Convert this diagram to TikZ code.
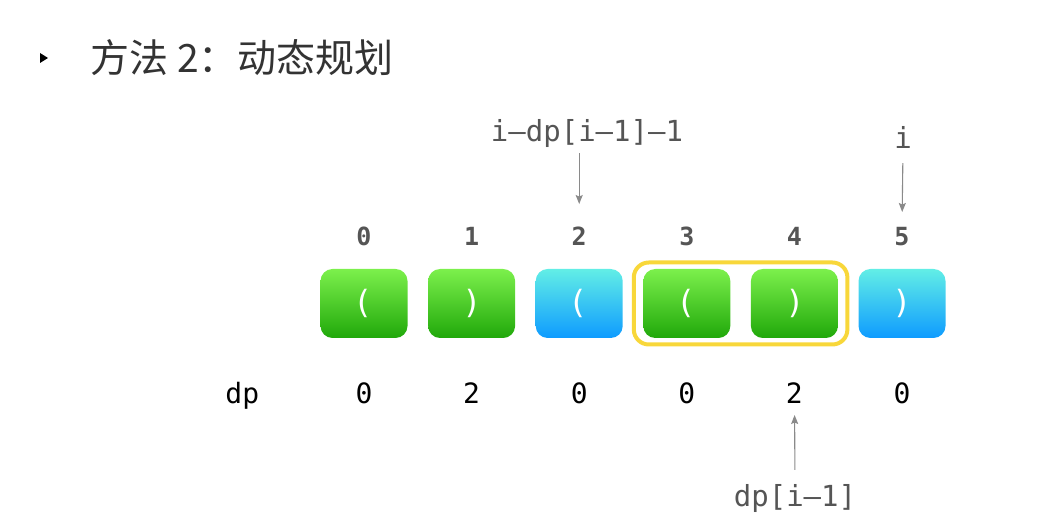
\documentclass[tikz,border=0pt]{standalone}
\usepackage{fontspec}
\setmainfont{Liberation Sans}
\setmonofont{DejaVu Sans Mono}
\newfontfamily\cjk{Noto Sans CJK SC}
\newfontfamily\parenfont{DejaVu Sans}
\usetikzlibrary{positioning, arrows.meta, fit}
\definecolor{gtop}{HTML}{7CF04C}
\definecolor{gbot}{HTML}{20A80A}
\definecolor{btop}{HTML}{62EEE6}
\definecolor{bbot}{HTML}{0E9BFF}
\definecolor{frame}{HTML}{F8D73A}
\definecolor{ink}{HTML}{555555}
\definecolor{arrowgray}{HTML}{8A8A8A}
\tikzset{
        x=1pt, y=1pt,
        node distance=20.6pt, % gap between two boxes
        cell/.style={minimum width=87pt, minimum height=69pt, rounded corners=12pt,
          outer sep=0pt, inner sep=0pt, text=white,
          font=\parenfont\fontsize{32}{32}\selectfont},
        gcell/.style={cell, top color=gtop, bottom color=gbot}, % green box
        bcell/.style={cell, top color=btop, bottom color=bbot}, % blue box
        idx/.style={inner sep=0pt, text=ink, font=\ttfamily\bfseries\fontsize{25}{25}\selectfont},
        dpval/.style={inner sep=0pt, font=\ttfamily\fontsize{28}{28}\selectfont},
        note/.style={inner sep=0pt, text=ink, font=\ttfamily\fontsize{29}{29}\selectfont},
        ptr/.style={draw=arrowgray, line width=1.1pt,
          -{Stealth[length=9pt, width=7pt, inset=1.5pt]}},
        hl/.style={draw=frame, line width=4pt, rounded corners=15pt,
          inner xsep=9.5pt, inner ysep=6.5pt},
    }
\begin{document}
\begin{tikzpicture}
    \useasboundingbox (0,0) rectangle (1052,529);
    % title
    \fill (40,476) -- (48,471) -- (40,466) -- cycle;
    \node[anchor=west, inner sep=0pt, text=black!80] (title) at (90,471)
      {\cjk\fontsize{39}{39}\selectfont 方法\hspace{9pt}2：动态规划};
    % boxes
    \node[gcell] (b0) at (364,225.5) {(};
    \node[gcell, right=of b0] (b1) {)};
    \node[bcell, right=of b1] (b2) {(};
    \node[gcell, right=of b2] (b3) {(};
    \node[gcell, right=of b3] (b4) {)};
    \node[bcell, right=of b4] (b5) {)};
    \node[hl, fit=(b3)(b4)] (pair) {};
    % indices
    \foreach \k in {0,...,5}
      \node[idx, above=23pt of b\k] (i\k) {\k};
    % dp row
    \node[dpval, below=45pt of b0] (dp0) {0};
    \node[dpval, below=45pt of b1] (dp1) {2};
    \node[dpval, below=45pt of b2] (dp2) {0};
    \node[dpval, below=45pt of b3] (dp3) {0};
    \node[dpval, below=45pt of b4] (dp4) {2};
    \node[dpval, below=45pt of b5] (dp5) {0};
    \node[dpval, anchor=base east] (dplbl) at ([xshift=-96pt]dp0.base west) {dp};
    % pointers
    \node[note, anchor=base] (start) at (587,387) {i–dp[i–1]–1};
    \node[note, anchor=base] (cur) at (903,380) {i};
    \node[note, anchor=base] (prev) at (795,22) {dp[i–1]};
    \draw[ptr, shorten <=5pt, shorten >=23pt] (start.south -| i2) -- (i2.north);
    \draw[ptr, shorten <=14pt, shorten >=15pt] (cur.south) -- (i5.north);
    \draw[ptr, shorten <=15pt, shorten >=32pt] (prev.north) -- (dp4.north);
  \end{tikzpicture}
\end{document}
